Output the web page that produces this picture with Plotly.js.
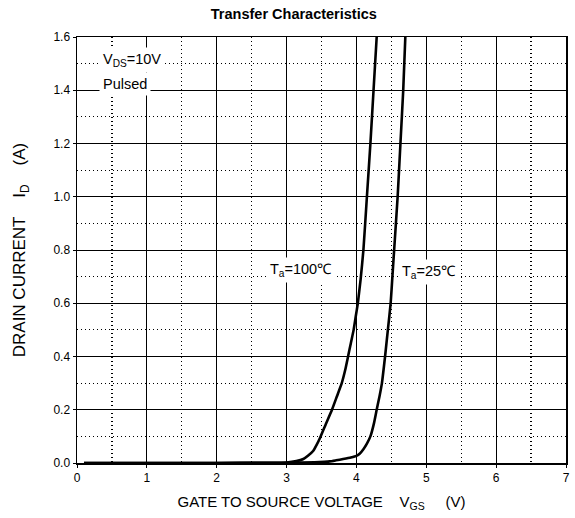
<!DOCTYPE html>
<html><head><meta charset="utf-8">
<script src="https://cdn.plot.ly/plotly-3.0.1.min.js"></script>
<style>body{margin:0;background:#fff}#c{width:575px;height:518px}</style>
</head><body><div id="c"></div>
<script>
const vgs100 = [0.1, 1.0, 2.0, 2.7, 3.0, 3.14, 3.24, 3.31, 3.38, 3.43, 3.48, 3.56, 3.65, 3.72, 3.79, 3.84, 3.88, 3.92, 3.96, 3.99, 4.02, 4.06, 4.10, 4.15, 4.20, 4.245, 4.29];
const id100  = [0.0, 0.0, 0.0, 0.001, 0.002, 0.007, 0.015, 0.028, 0.045, 0.068, 0.095, 0.145, 0.2, 0.25, 0.3, 0.35, 0.4, 0.45, 0.5, 0.55, 0.6, 0.69, 0.8, 1.0, 1.2, 1.4, 1.6];
const vgs25  = [0.1, 1.0, 2.0, 3.0, 3.4, 3.62, 3.71, 3.81, 3.92, 4.0, 4.05, 4.10, 4.15, 4.20, 4.25, 4.29, 4.33, 4.365, 4.41, 4.45, 4.49, 4.515, 4.54, 4.59, 4.63, 4.67, 4.70];
const id25   = [0.0, 0.0, 0.0, 0.001, 0.003, 0.006, 0.01, 0.015, 0.021, 0.027, 0.036, 0.052, 0.073, 0.1, 0.148, 0.2, 0.25, 0.3, 0.4, 0.5, 0.6, 0.7, 0.8, 1.0, 1.2, 1.4, 1.6];
const xTicks = [0, 1, 2, 3, 4, 5, 6, 7];
const xMinor = [0.5, 1.5, 2.5, 3.5, 4.5, 5.5, 6.5];
const yTicks = [0.0, 0.2, 0.4, 0.6, 0.8, 1.0, 1.2, 1.4, 1.6];
const yMinor = [0.1, 0.3, 0.5, 0.7, 0.9, 1.1, 1.3, 1.5];
const labels = [
  {text: 'V<sub>DS</sub>=10V', x: 0.31, y: 1.512},
  {text: 'Pulsed', x: 0.31, y: 1.422},
  {text: 'T<sub>a</sub>=100℃', x: 2.71, y: 0.725},
  {text: 'T<sub>a</sub>=25℃', x: 4.60, y: 0.717}
];

const font = 'Liberation Sans, Arial, sans-serif';
const line = {color: 'black', width: 2.6, shape: 'spline', smoothing: 0.4};
const traces = [
  {x: vgs100, y: id100, mode: 'lines', line: line, showlegend: false, hoverinfo: 'skip'},
  {x: vgs25, y: id25, mode: 'lines', line: line, showlegend: false, hoverinfo: 'skip'}
];
const nb = '\u00A0';
const dot = '1px,3px';
const layout = {
  width: 575, height: 518,
  margin: {l: 77, r: 9, t: 37, b: 55},
  paper_bgcolor: 'white', plot_bgcolor: 'white',
  font: {family: font, color: 'black', size: 12},
  title: {text: '<b>Transfer Characteristics</b>', font: {size: 14.5, family: font, color: 'black'},
          x: 0.511, xref: 'container', xanchor: 'center', y: 0.973, yref: 'container', yanchor: 'middle'},
  xaxis: {
    range: [0, 7], tickvals: xTicks, ticktext: xTicks.map(String),
    showline: true, mirror: true, linecolor: 'black', linewidth: 1.5,
    showgrid: true, gridcolor: 'black', gridwidth: 1,
    ticks: 'outside', ticklen: 3, tickcolor: 'black',
    minor: {tickmode: 'array', tickvals: xMinor, showgrid: true, gridcolor: 'black', griddash: dot, gridwidth: 1.2, ticks: ''},
    zeroline: false, fixedrange: true,
    title: {text: 'GATE TO SOURCE VOLTAGE' + nb.repeat(4) + 'V<sub>GS</sub>' + nb.repeat(5) + '(V)', font: {size: 15}, standoff: 12}
  },
  yaxis: {
    range: [0, 1.6], tickvals: yTicks, ticktext: yTicks.map(v => v.toFixed(1)),
    showline: true, mirror: true, linecolor: 'black', linewidth: 1.5,
    showgrid: true, gridcolor: 'black', gridwidth: 1,
    ticks: 'outside', ticklen: 3, tickcolor: 'black',
    minor: {tickmode: 'array', tickvals: yMinor, showgrid: true, gridcolor: 'black', griddash: dot, gridwidth: 1.2, ticks: ''},
    zeroline: false, fixedrange: true,
    title: {text: 'DRAIN CURRENT' + nb.repeat(4) + 'I<sub>D</sub>' + nb.repeat(4) + '(A)', font: {size: 17}, standoff: 23}
  },
  annotations: labels.map(a => ({
    text: a.text, x: a.x, y: a.y, xref: 'x', yref: 'y', xanchor: 'left', showarrow: false,
    font: {size: 14.5, family: font, color: 'black'}, bgcolor: 'white', borderpad: 3
  }))
};
Plotly.newPlot('c', traces, layout, {displayModeBar: false, staticPlot: true});
</script></body></html>
